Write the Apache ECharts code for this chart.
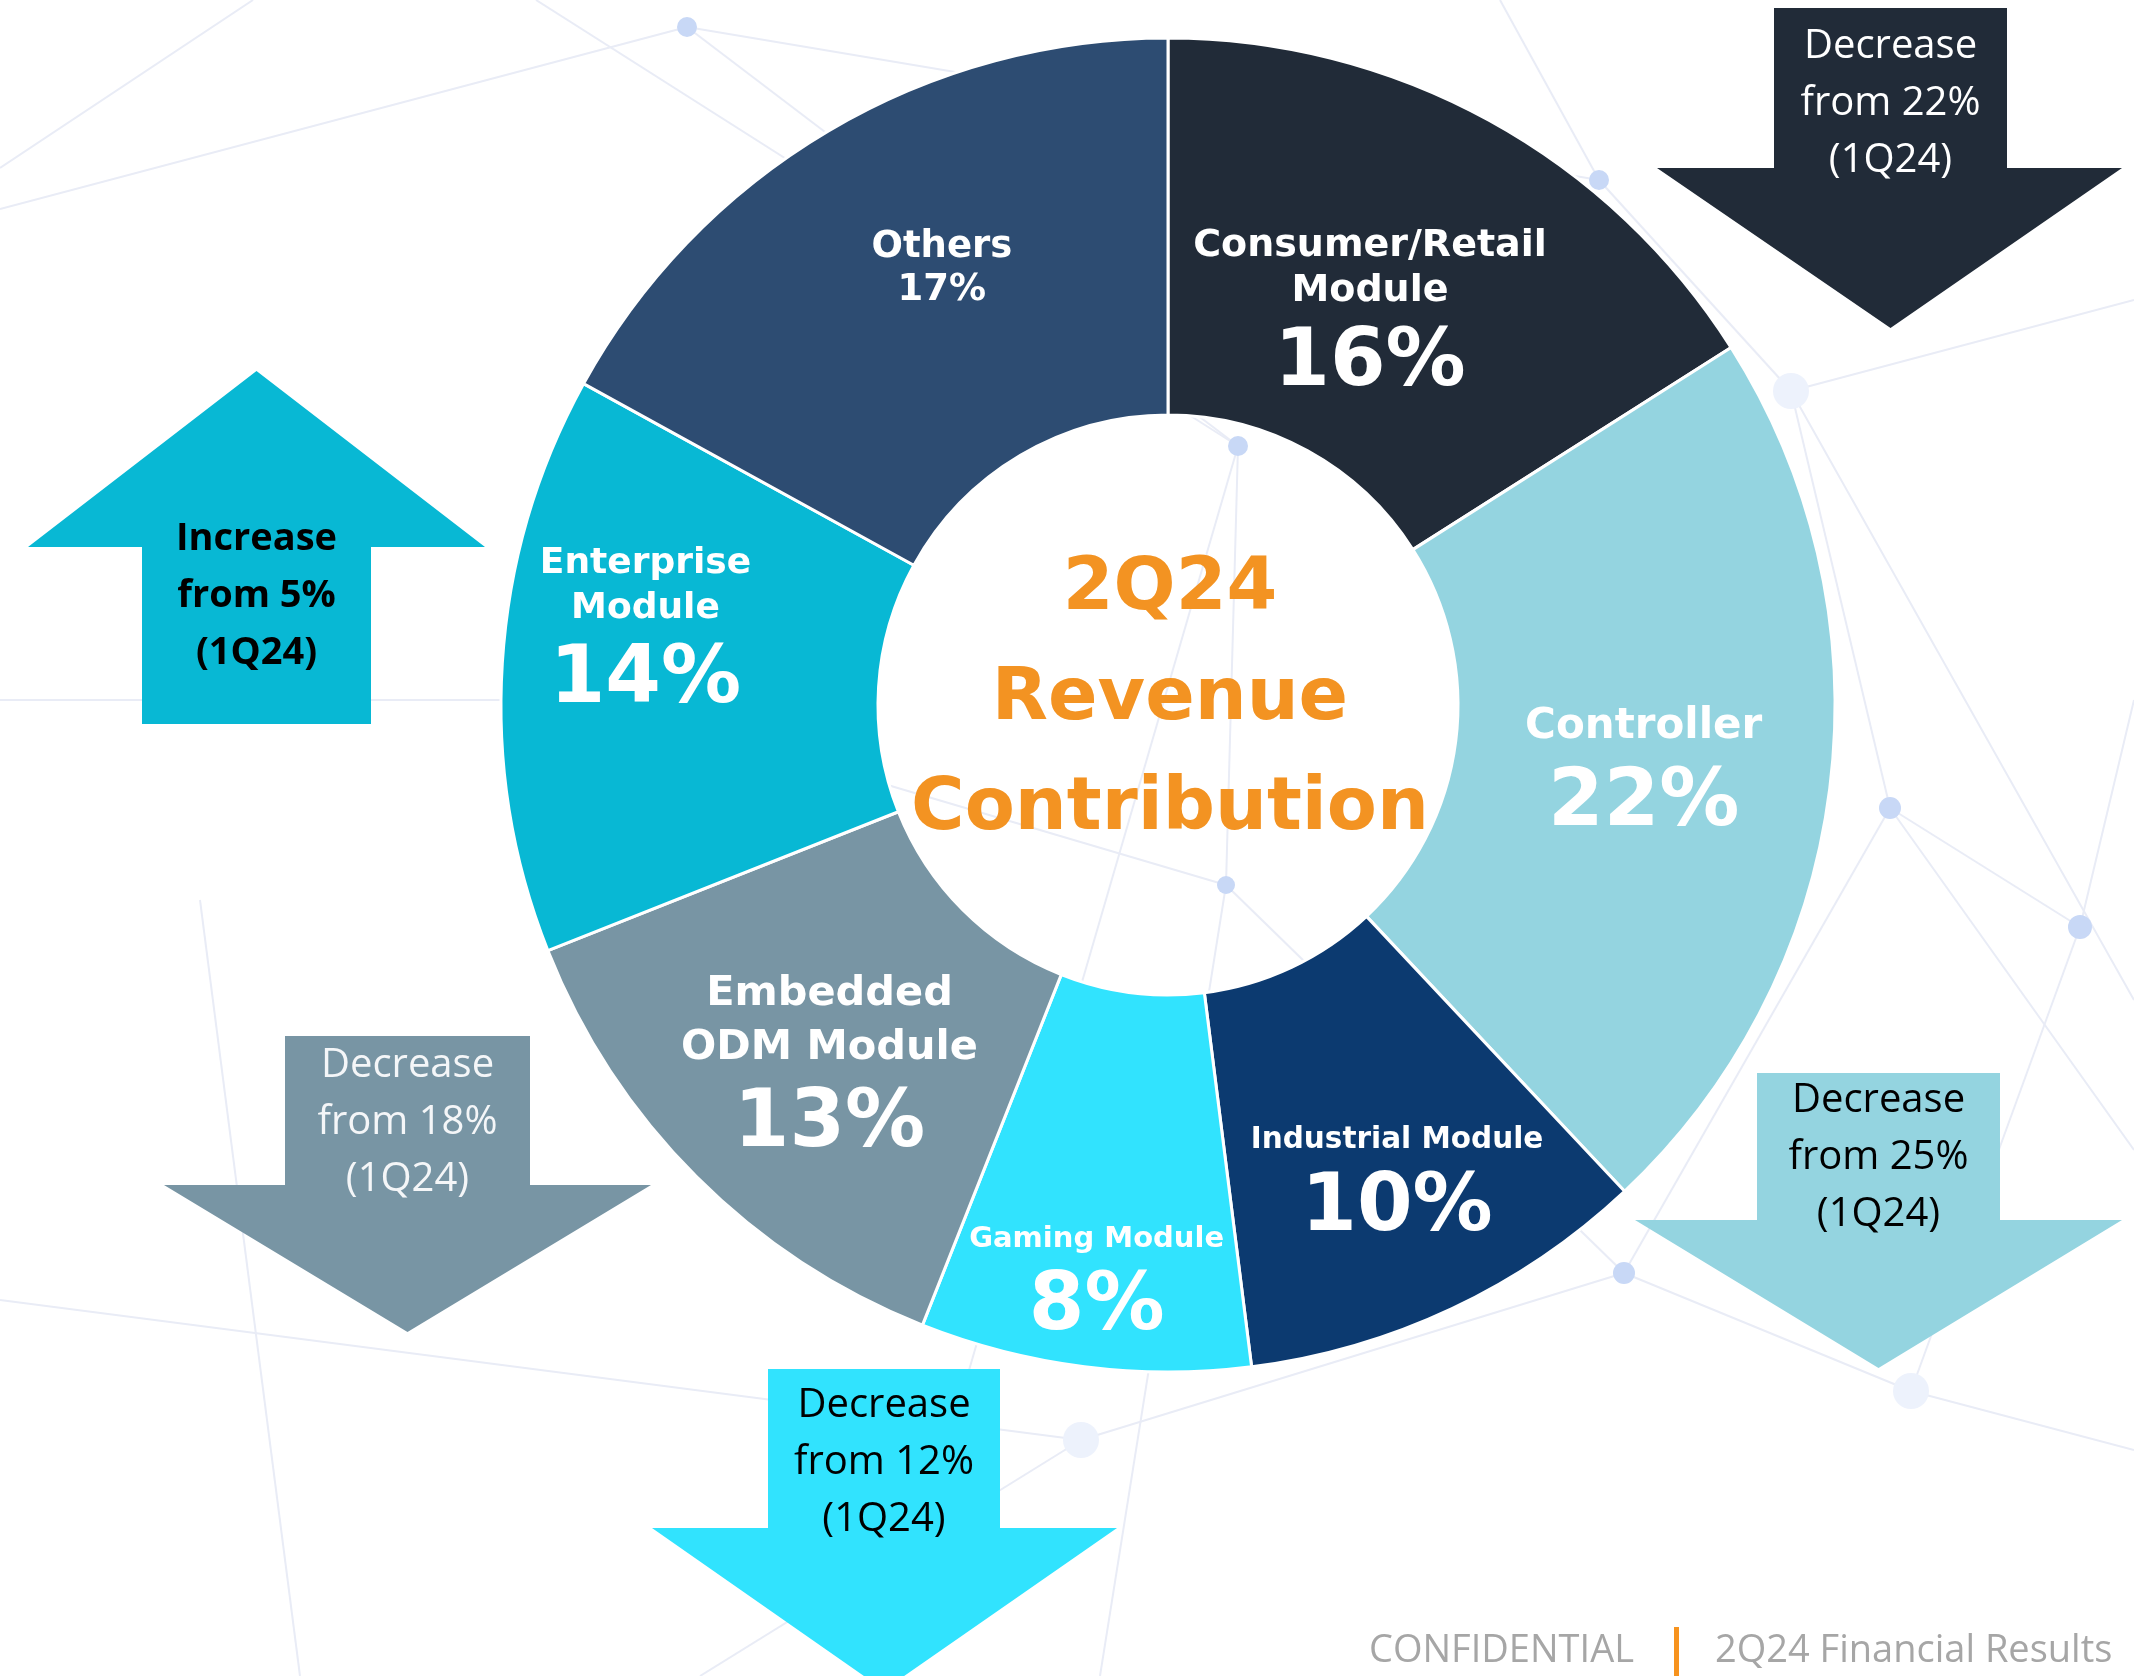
<!DOCTYPE html>
<html>
<head>
<meta charset="utf-8">
<script src="https://cdn.jsdelivr.net/npm/echarts@6/dist/echarts.min.js"></script>
<style>
  html, body { margin: 0; padding: 0; background: #fff; }
  #chart { width: 2134px; height: 1676px; }
</style>
</head>
<body>
<div id="chart"></div>
<script>
// slices, clockwise from 12 o'clock
var categories = ['Consumer/Retail Module', 'Controller', 'Industrial Module', 'Gaming Module', 'Embedded ODM Module', 'Enterprise Module', 'Others']
var labelText = ['Consumer/Retail\nModule', 'Controller', 'Industrial Module', 'Gaming Module', 'Embedded\nODM Module', 'Enterprise\nModule', 'Others']
var share2Q24 = [16, 22, 10, 8, 13, 14, 17]
var share1Q24 = [22, 25, null, 12, 18, 5, null]
var quarter = '2Q24'
var prevQuarter = '1Q24'

var colors = ['#212B38', '#94D4E0', '#0C3A70', '#31E3FE', '#7895A4', '#08B8D4', '#2D4C72']
var nameSize = [38, 42, 29.5, 29, 41.5, 36, 37]
var nameLine = [45, 54, 38, 38, 54, 45, 43]
var bigPct = [true, true, true, true, true, true, false]
var labelShift = [[-30, 36], [-2, 12], [24, 50], [-11, 107], [2, 26], [-42, -39], [19, -22]]
var arrowText = ['#fff', '#000', '#000', '#000', '#F4F6F8', '#000', '#fff']
var arrowBold = [false, false, false, false, false, true, false]
// arrow boxes: [shaftX0, shaftX1, shaftEnd, headY, headX0, headX1, tipY, textY]
var arrowGeo = [
    [1774, 2007, 8, 168, 1657, 2122, 328, 104],
    [1757, 2000, 1073, 1220, 1635, 2122, 1368, 1158],
    null,
    [768, 1000, 1369, 1528, 652, 1117, 1690, 1463],
    [285, 530, 1036, 1185, 164, 651, 1332, 1123],
    [142, 371, 724, 547, 28, 485, 371, 596],
    null
]

var chart = echarts.init(document.getElementById('chart'))

var seriesData = categories.map(function (name, i) {
    var rich = {
        n: { fontSize: nameSize[i], lineHeight: nameLine[i], fontWeight: 'bold', color: '#fff', fontFamily: 'DejaVu Sans' },
        p: { fontSize: 80, lineHeight: 100, fontWeight: 'bold', color: '#fff', fontFamily: 'DejaVu Sans' }
    }
    var lines = labelText[i].split('\n').map(function (t) { return '{n|' + t + '}' })
    lines.push((bigPct[i] ? '{p|' : '{n|') + share2Q24[i] + '%}')
    return {
        name: name,
        value: share2Q24[i],
        itemStyle: { color: colors[i] },
        label: { formatter: lines.join('\n'), rich: rich }
    }
})

// faint network in the background
var nodes = [[687, 27, 10], [1238, 446, 10], [1226, 885, 9], [1599, 180, 10], [1791, 391, 18], [1890, 808, 11],
    [2080, 927, 12], [1624, 1273, 11], [1911, 1391, 18], [1081, 1440, 18]]
var edges = [[[0, 209], [687, 27]], [[0, 168], [253, 0]], [[687, 27], [1599, 180]], [[687, 27], [1238, 446]],
    [[536, 0], [1238, 446]], [[1238, 446], [1226, 885]], [[1238, 446], [880, 1676]], [[1226, 885], [1624, 1273]],
    [[1599, 180], [1791, 391]], [[1791, 391], [1890, 808]], [[1890, 808], [2080, 927]], [[1890, 808], [1624, 1273]],
    [[1624, 1273], [1911, 1391]], [[2080, 927], [1911, 1391]], [[1791, 391], [2134, 300]], [[2080, 927], [2134, 700]],
    [[1890, 808], [2134, 1150]], [[1911, 1391], [2134, 1450]], [[1624, 1273], [1081, 1440]], [[1081, 1440], [700, 1676]],
    [[1226, 885], [1100, 1676]], [[0, 1300], [1081, 1440]], [[1599, 180], [1500, 0]], [[1791, 391], [2134, 1000]],
    [[1226, 885], [600, 700]], [[300, 1676], [200, 900]], [[0, 700], [600, 700]]]

var graphics = []
edges.forEach(function (e) {
    graphics.push({ type: 'line', z: -10, silent: true,
        shape: { x1: e[0][0], y1: e[0][1], x2: e[1][0], y2: e[1][1] },
        style: { stroke: '#E9ECF6', lineWidth: 2 } })
})
nodes.forEach(function (n) {
    graphics.push({ type: 'circle', z: -9, silent: true,
        shape: { cx: n[0], cy: n[1], r: n[2] },
        style: { fill: n[2] > 15 ? '#EDF2FC' : '#C8D8F6' } })
})

// change arrows
share1Q24.forEach(function (prev, i) {
    var g = arrowGeo[i]
    if (prev == null || !g) return
    var up = share2Q24[i] > prev
    var cx = (g[0] + g[1]) / 2
    var pts = [[g[0], g[2]], [g[1], g[2]], [g[1], g[3]], [g[5], g[3]], [cx, g[6]], [g[4], g[3]], [g[0], g[3]]]
    graphics.push({ type: 'polygon', z: 5, silent: true, shape: { points: pts }, style: { fill: colors[i] } })
    graphics.push({ type: 'text', z: 6, silent: true, x: cx, y: g[7],
        style: {
            text: (up ? 'Increase' : 'Decrease') + '\nfrom ' + prev + '%\n(' + prevQuarter + ')',
            fill: arrowText[i], font: (arrowBold[i] ? 'bold 38px' : '40px') + ' "Open Sans"',
            lineHeight: 57, align: 'center', verticalAlign: 'middle'
        } })
})

// centre title
graphics.push({ type: 'text', z: 6, silent: true, x: 1170, y: 700,
    style: { text: quarter + '\nRevenue\nContribution', fill: '#F39322', font: 'bold 73px "DejaVu Sans"',
        lineHeight: 110, align: 'center', verticalAlign: 'middle' } })

// footer
graphics.push({ type: 'text', z: 6, silent: true, x: 1634, y: 1651,
    style: { text: 'CONFIDENTIAL', fill: '#A6A6A6', font: '38px "Open Sans"', align: 'right', verticalAlign: 'middle' } })
graphics.push({ type: 'rect', z: 6, silent: true, shape: { x: 1674, y: 1627, width: 5, height: 49 }, style: { fill: '#F7931E' } })
graphics.push({ type: 'text', z: 6, silent: true, x: 1715, y: 1651,
    style: { text: quarter + ' Financial Results', fill: '#A6A6A6', font: '38px "Open Sans"', align: 'left', verticalAlign: 'middle' } })

var option = {
    backgroundColor: '#ffffff',
    animation: false,
    graphic: graphics,
    series: [{
        type: 'pie',
        center: [1168, 705],
        radius: [290, 667],
        startAngle: 90,
        clockwise: true,
        silent: true,
        itemStyle: { borderColor: '#ffffff', borderWidth: 3 },
        label: { show: true, position: 'inside', align: 'center' },
        labelLine: { show: false },
        labelLayout: function (params) {
            var s = labelShift[params.dataIndex]
            return { dx: s[0], dy: s[1] }
        },
        emphasis: { disabled: true },
        data: seriesData
    }]
}
chart.setOption(option)
</script>
</body>
</html>
